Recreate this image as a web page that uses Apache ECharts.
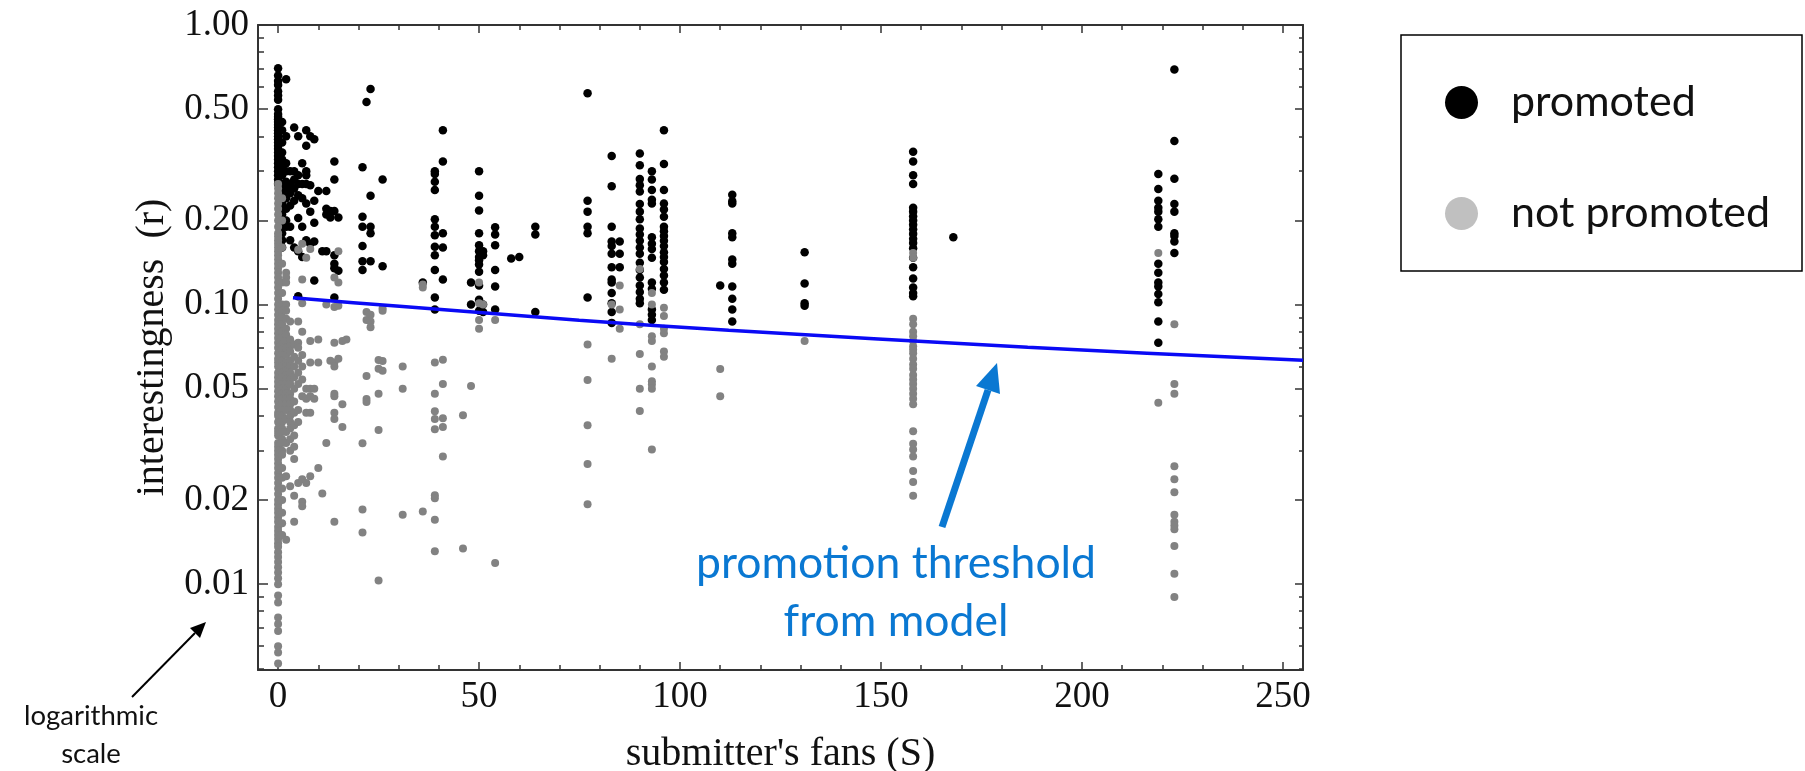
<!DOCTYPE html>
<html>
<head>
<meta charset="utf-8">
<title>interestingness vs submitter's fans</title>
<script src="https://cdn.jsdelivr.net/npm/echarts@6.0.0/dist/echarts.min.js"></script>
<style>
  html, body { margin: 0; padding: 0; background: #fff; }
  #chart { width: 1805px; height: 771px; }
</style>
</head>
<body>
<div id="chart"></div>
<script>
// each entry: [submitter's fans S, [interestingness r values at that S]]
var promoted = [
  [0, [0.70, 0.66, 0.63, 0.61, 0.58, 0.56, 0.54, 0.50, 0.48, 0.47, 0.46, 0.45, 0.44, 0.43, 0.42, 0.41, 0.40, 0.39, 0.38, 0.37, 0.36, 0.35, 0.34, 0.33, 0.32, 0.31, 0.30, 0.29, 0.28, 0.27]],
  [1, [0.45, 0.42, 0.38, 0.35, 0.33, 0.31, 0.29, 0.27, 0.26, 0.25, 0.24, 0.23, 0.22, 0.21, 0.20, 0.19, 0.18, 0.17, 0.16]],
  [2, [0.64, 0.40, 0.32, 0.30, 0.275, 0.26, 0.24, 0.22, 0.20, 0.19]],
  [3, [0.30, 0.27, 0.25, 0.226, 0.19, 0.17]],
  [4, [0.43, 0.30, 0.28, 0.26, 0.235, 0.16]],
  [5, [0.40, 0.29, 0.27, 0.246, 0.204, 0.155, 0.107]],
  [6, [0.32, 0.27, 0.24, 0.19, 0.148]],
  [7, [0.42, 0.37, 0.30, 0.29, 0.27, 0.23, 0.17]],
  [8, [0.40, 0.267, 0.215, 0.165]],
  [9, [0.39, 0.235, 0.196, 0.168, 0.122]],
  [10, [0.255]],
  [11, [0.155]],
  [12, [0.22, 0.21, 0.255, 0.155]],
  [13, [0.216, 0.205]],
  [14, [0.325, 0.28, 0.216, 0.15, 0.14, 0.135, 0.106]],
  [15, [0.205, 0.132]],
  [21, [0.31, 0.206, 0.19, 0.162, 0.143, 0.133]],
  [22, [0.53]],
  [23, [0.59, 0.245, 0.19, 0.18, 0.143]],
  [26, [0.28, 0.137]],
  [36, [0.12]],
  [39, [0.30, 0.293, 0.275, 0.257, 0.202, 0.19, 0.177, 0.161, 0.15, 0.133, 0.106, 0.096]],
  [41, [0.42, 0.325, 0.18, 0.16, 0.123]],
  [48, [0.12, 0.10]],
  [50, [0.30, 0.245, 0.217, 0.18, 0.163, 0.155, 0.148, 0.144, 0.139, 0.131, 0.117, 0.104, 0.095]],
  [51, [0.155, 0.15, 0.10, 0.094]],
  [54, [0.189, 0.178, 0.163, 0.133, 0.116, 0.096]],
  [58, [0.146]],
  [60, [0.148]],
  [64, [0.19, 0.178, 0.094]],
  [77, [0.57, 0.235, 0.215, 0.19, 0.18, 0.106]],
  [83, [0.34, 0.265, 0.19, 0.168, 0.162, 0.152, 0.136, 0.123, 0.12, 0.11, 0.101, 0.094, 0.086]],
  [85, [0.168, 0.152, 0.136]],
  [90, [0.347, 0.315, 0.281, 0.267, 0.254, 0.229, 0.215, 0.202, 0.187, 0.178, 0.169, 0.16, 0.152, 0.141, 0.133, 0.125, 0.117, 0.111, 0.105, 0.101]],
  [93, [0.30, 0.28, 0.257, 0.237, 0.23, 0.174, 0.165, 0.158, 0.147, 0.12, 0.114, 0.096, 0.092, 0.088]],
  [96, [0.42, 0.318, 0.257, 0.23, 0.219, 0.206, 0.19, 0.183, 0.176, 0.169, 0.162, 0.154, 0.148, 0.142, 0.134, 0.127, 0.12, 0.113]],
  [110, [0.117]],
  [113, [0.247, 0.234, 0.23, 0.18, 0.174, 0.145, 0.14, 0.116, 0.105, 0.096, 0.087]],
  [131, [0.154, 0.119, 0.101, 0.099]],
  [158, [0.352, 0.325, 0.29, 0.27, 0.222, 0.215, 0.207, 0.2, 0.193, 0.186, 0.179, 0.172, 0.166, 0.159, 0.147, 0.136, 0.124, 0.115, 0.11, 0.107]],
  [168, [0.174]],
  [219, [0.293, 0.259, 0.235, 0.222, 0.215, 0.202, 0.19, 0.14, 0.13, 0.12, 0.116, 0.109, 0.102, 0.087, 0.073]],
  [223, [0.693, 0.385, 0.282, 0.229, 0.215, 0.18, 0.176, 0.168, 0.153]]
];

var notPromoted = [
  [0, [0.27, 0.26, 0.25, 0.24, 0.23, 0.22, 0.21, 0.20, 0.19, 0.18, 0.175, 0.17, 0.165, 0.16, 0.155, 0.15, 0.145, 0.14, 0.135, 0.13, 0.125, 0.12, 0.115, 0.11, 0.105, 0.10, 0.096, 0.092, 0.088, 0.085, 0.082, 0.079, 0.076, 0.073, 0.07, 0.067, 0.064, 0.062, 0.06, 0.057, 0.055, 0.053, 0.051, 0.049, 0.047, 0.045, 0.043, 0.041, 0.04, 0.038, 0.036, 0.035, 0.034, 0.032, 0.031, 0.03, 0.029, 0.028, 0.027, 0.026, 0.025, 0.024, 0.023, 0.022, 0.021, 0.02, 0.0193, 0.0186, 0.018, 0.0173, 0.0167, 0.016, 0.0155, 0.015, 0.0145, 0.014, 0.0136, 0.013, 0.0125, 0.012, 0.0115, 0.011, 0.0105, 0.01, 0.0091, 0.0086, 0.0076, 0.0072, 0.0068, 0.006, 0.0057, 0.0052]],
  [1, [0.24, 0.2, 0.16, 0.14, 0.12, 0.11, 0.1, 0.095, 0.09, 0.085, 0.08, 0.076, 0.072, 0.069, 0.066, 0.063, 0.06, 0.057, 0.055, 0.052, 0.05, 0.048, 0.046, 0.044, 0.042, 0.04, 0.038, 0.036, 0.035, 0.033, 0.032, 0.03, 0.029, 0.026, 0.024, 0.022, 0.02, 0.018, 0.0165, 0.015]],
  [2, [0.13, 0.125, 0.12, 0.1, 0.095, 0.089, 0.082, 0.078, 0.074, 0.07, 0.066, 0.062, 0.06, 0.058, 0.056, 0.054, 0.052, 0.05, 0.048, 0.046, 0.044, 0.042, 0.039, 0.035, 0.032, 0.0243, 0.0144]],
  [3, [0.087, 0.075, 0.071, 0.068, 0.063, 0.06, 0.057, 0.054, 0.052, 0.048, 0.046, 0.044, 0.042, 0.04, 0.038, 0.036, 0.033, 0.03, 0.0224]],
  [4, [0.072, 0.065, 0.06, 0.055, 0.05, 0.045, 0.041, 0.037, 0.034, 0.031, 0.028, 0.0207, 0.0167]],
  [5, [0.157, 0.087, 0.073, 0.07, 0.063, 0.057, 0.052, 0.042, 0.038, 0.023]],
  [6, [0.165, 0.123, 0.101, 0.08, 0.066, 0.06, 0.054, 0.047, 0.0237, 0.0197, 0.019]],
  [7, [0.147, 0.05, 0.046, 0.041, 0.023]],
  [8, [0.158, 0.074, 0.062, 0.05, 0.047, 0.041, 0.0243]],
  [9, [0.05, 0.046]],
  [10, [0.075, 0.062, 0.026]],
  [11, [0.0211]],
  [12, [0.1, 0.032]],
  [13, [0.063]],
  [14, [0.125, 0.098, 0.073, 0.062, 0.06, 0.048, 0.047, 0.041, 0.039, 0.0167]],
  [15, [0.155, 0.12, 0.099, 0.064]],
  [16, [0.074, 0.044, 0.0365]],
  [17, [0.075]],
  [21, [0.0319, 0.0185, 0.0153]],
  [22, [0.094, 0.088, 0.0555, 0.0459, 0.0448]],
  [23, [0.092, 0.087, 0.083]],
  [25, [0.0633, 0.059, 0.048, 0.0356, 0.0103]],
  [26, [0.097, 0.095, 0.0628, 0.058]],
  [31, [0.06, 0.05, 0.0177]],
  [36, [0.118, 0.115, 0.0182]],
  [39, [0.062, 0.048, 0.0415, 0.039, 0.0358, 0.0208, 0.0203, 0.017, 0.0131]],
  [41, [0.0635, 0.052, 0.0392, 0.0365, 0.0286]],
  [46, [0.0402, 0.0134]],
  [48, [0.0511]],
  [50, [0.12, 0.101, 0.088, 0.082]],
  [51, [0.1]],
  [54, [0.088, 0.0119]],
  [77, [0.072, 0.0537, 0.037, 0.0269, 0.0193]],
  [83, [0.1, 0.064]],
  [85, [0.117, 0.096, 0.082]],
  [90, [0.134, 0.085, 0.0665, 0.05, 0.0416]],
  [93, [0.11, 0.1, 0.077, 0.074, 0.06, 0.0532, 0.0518, 0.05, 0.0303]],
  [96, [0.0975, 0.091, 0.082, 0.079, 0.068, 0.065]],
  [110, [0.0588, 0.047]],
  [131, [0.074]],
  [158, [0.153, 0.147, 0.089, 0.085, 0.08, 0.077, 0.074, 0.071, 0.069, 0.067, 0.064, 0.061, 0.059, 0.056, 0.054, 0.052, 0.05, 0.048, 0.046, 0.044, 0.0352, 0.0318, 0.0303, 0.0286, 0.0254, 0.0232, 0.0207]],
  [219, [0.153, 0.0445]],
  [223, [0.085, 0.052, 0.048, 0.0264, 0.0237, 0.0213, 0.0177, 0.0167, 0.0162, 0.0157, 0.0137, 0.0109, 0.009]]
];

// promotion threshold from model
var thresholdS = [3.7, 30.2, 74.9, 112.1, 186.5, 255];
var thresholdR = [0.1057, 0.0986, 0.0879, 0.0809, 0.0703, 0.0632];

var xTicks = [0, 50, 100, 150, 200, 250];
var xMinorTicks = [10, 20, 30, 40, 60, 70, 80, 90, 110, 120, 130, 140, 160, 170, 180, 190, 210, 220, 230, 240];
var yTicks = [0.01, 0.02, 0.05, 0.1, 0.2, 0.5, 1];
var yMinorTicks = [0.005, 0.006, 0.007, 0.008, 0.009, 0.03, 0.04, 0.06, 0.07, 0.08, 0.09, 0.3, 0.4, 0.6, 0.7, 0.8, 0.9];

function flatten(cols) {
  var out = [];
  cols.forEach(function (c) {
    c[1].forEach(function (r) { out.push([c[0], r]); });
  });
  return out;
}

var serif = 'Liberation Serif';
var sans = 'Lato';
var frameLine = { show: true, onZero: false, lineStyle: { color: '#333', width: 2 } };
var noLine = { show: false, onZero: false };

function xAxis(pos, ticks, len, withLabels, showLine) {
  return {
    type: 'value', position: pos, min: -5, max: 255,
    axisLine: showLine ? frameLine : noLine,
    axisTick: { inside: true, length: len, customValues: ticks, lineStyle: { color: '#333', width: 1.5 } },
    axisLabel: withLabels
      ? { customValues: xTicks, margin: 9, color: '#111', fontFamily: serif, fontSize: 37 }
      : { show: false },
    splitLine: { show: false }
  };
}
function yAxis(pos, ticks, len, withLabels, showLine) {
  return {
    type: 'log', logBase: 10, position: pos, min: 0.00493, max: 1,
    axisLine: showLine ? frameLine : noLine,
    axisTick: { inside: true, length: len, customValues: ticks, lineStyle: { color: '#333', width: 1.5 } },
    axisLabel: withLabels
      ? {
          customValues: yTicks, margin: 9, color: '#111', fontFamily: serif, fontSize: 37,
          formatter: function (v) { return Number(v).toFixed(2); }
        }
      : { show: false },
    splitLine: { show: false }
  };
}

var xs = [
  xAxis('bottom', xTicks, 8, true, true),
  xAxis('bottom', xMinorTicks, 5, false, false),
  xAxis('top', xTicks, 8, false, true),
  xAxis('top', xMinorTicks, 5, false, false)
];
xs[0].name = "submitter's fans (S)";
xs[0].nameLocation = 'middle';
xs[0].nameGap = 64;
xs[0].nameTextStyle = { fontFamily: serif, fontSize: 40, color: '#111' };

var ys = [
  yAxis('left', yTicks, 10, true, true),
  yAxis('left', yMinorTicks, 6, false, false),
  yAxis('right', yTicks, 8, false, true),
  yAxis('right', yMinorTicks, 4, false, false)
];
ys[0].name = 'interestingness  (r)';
ys[0].nameLocation = 'middle';
ys[0].nameGap = 86;
ys[0].nameTextStyle = { fontFamily: serif, fontSize: 40, color: '#111' };

var chart = echarts.init(document.getElementById('chart'));

var option = {
  backgroundColor: '#fff',
  animation: false,
  grid: { left: 258, right: 502, top: 25, bottom: 101, outerBoundsMode: 'none', containLabel: false },
  xAxis: xs,
  yAxis: ys,
  legend: {
    orient: 'vertical', left: 1440, top: 76,
    itemWidth: 33, itemHeight: 33, itemGap: 68,
    icon: 'circle', selectedMode: false,
    textStyle: { fontFamily: sans, fontSize: 43, color: '#111', padding: [0, 0, 0, 28] },
    data: [
      { name: 'promoted', itemStyle: { color: '#000' } },
      { name: 'not promoted', itemStyle: { color: '#c0c0c0' } }
    ]
  },
  series: [
    {
      name: 'promoted', type: 'scatter', symbolSize: 8.5,
      itemStyle: { color: '#000', opacity: 1 },
      data: flatten(promoted)
    },
    {
      name: 'not promoted', type: 'scatter', symbolSize: 8,
      itemStyle: { color: '#828282', opacity: 1 },
      data: flatten(notPromoted)
    },
    {
      name: 'threshold', type: 'line', showSymbol: false, smooth: 0.3,
      lineStyle: { color: '#0a0af5', width: 3.5 },
      data: thresholdS.map(function (s, i) { return [s, thresholdR[i]]; }),
      z: 3
    }
  ],
  graphic: [
    { type: 'rect', shape: { x: 1401, y: 35, width: 401, height: 236 },
      style: { fill: 'none', stroke: '#000', lineWidth: 1.5 } },
    { type: 'text', x: 896, y: 564,
      style: { text: 'promotion threshold', fill: '#0a78d2', fontFamily: sans, fontSize: 44.5, textAlign: 'center', textVerticalAlign: 'middle' } },
    { type: 'text', x: 896, y: 622,
      style: { text: 'from model', fill: '#0a78d2', fontFamily: sans, fontSize: 44.5, textAlign: 'center', textVerticalAlign: 'middle' } },
    { type: 'line', shape: { x1: 942, y1: 527, x2: 988, y2: 390 },
      style: { stroke: '#0a78d2', lineWidth: 7 } },
    { type: 'polygon', shape: { points: [[997, 363], [1000, 394], [976, 386]] },
      style: { fill: '#0a78d2' } },
    { type: 'text', x: 91, y: 716,
      style: { text: 'logarithmic', fill: '#111', fontFamily: sans, fontSize: 27.5, textAlign: 'center', textVerticalAlign: 'middle' } },
    { type: 'text', x: 91, y: 754,
      style: { text: 'scale', fill: '#111', fontFamily: sans, fontSize: 27.5, textAlign: 'center', textVerticalAlign: 'middle' } },
    { type: 'line', shape: { x1: 132, y1: 697, x2: 195, y2: 633 },
      style: { stroke: '#000', lineWidth: 2 } },
    { type: 'polygon', shape: { points: [[206, 622], [200, 638], [190, 628]] },
      style: { fill: '#000' } }
  ]
};

chart.setOption(option);
</script>
</body>
</html>
